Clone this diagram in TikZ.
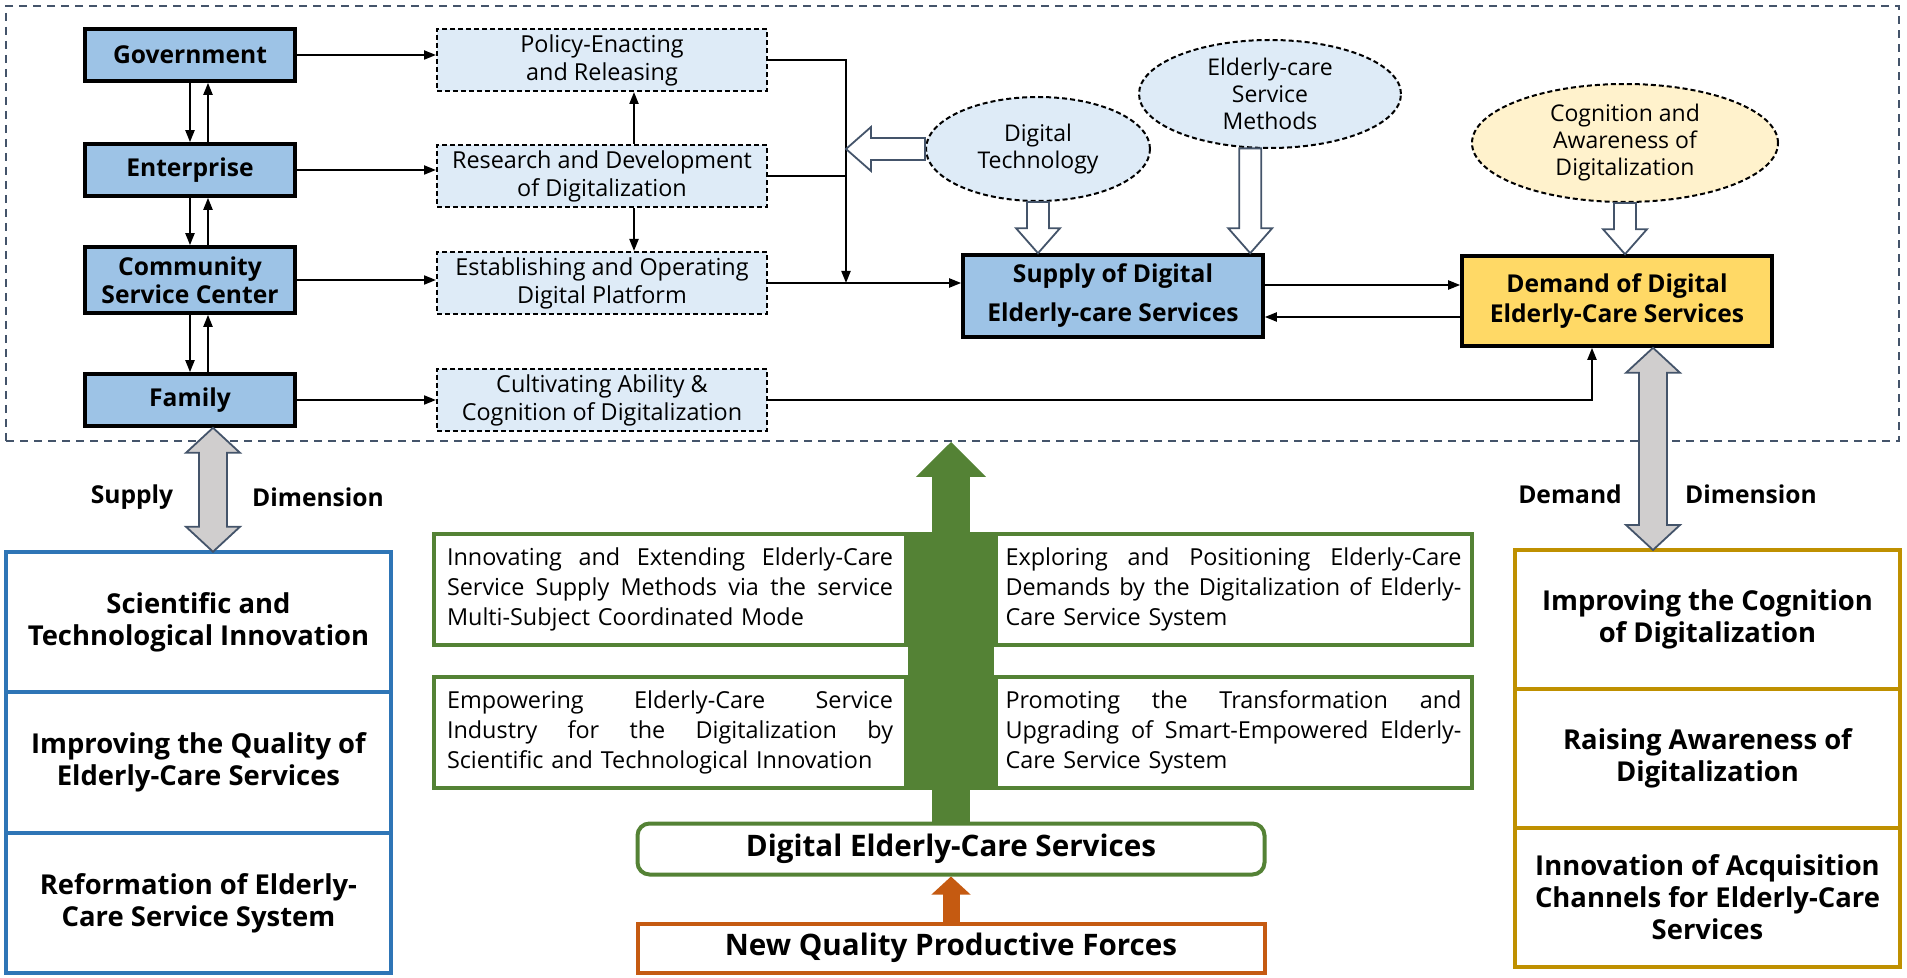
\documentclass[tikz,border=0pt]{standalone}
\usepackage{fontspec}
\setmainfont{Open Sans}
\usetikzlibrary{positioning,calc,arrows.meta,shapes.geometric}

\definecolor{actorblue}{HTML}{9DC3E6}
\definecolor{paleblue}{HTML}{DEEBF7}
\definecolor{paleyellow}{HTML}{FFF2CC}
\definecolor{demandgold}{HTML}{FFD966}
\definecolor{framegray}{HTML}{44546A}
\definecolor{arrowgray}{HTML}{D0CECE}
\definecolor{leafgreen}{HTML}{548235}
\definecolor{rustorange}{HTML}{C55A11}
\definecolor{panelblue}{HTML}{2E75B6}
\definecolor{panelgold}{HTML}{BF9000}

\tikzset{
  frame/.style={draw=framegray, dash pattern=on 4pt off 3pt, line width=0.9pt},
  actor/.style={draw, line width=1.8pt, fill=actorblue, minimum width=105pt, minimum height=26pt,
    align=center, inner sep=1pt, font=\fontsize{12.3}{14}\selectfont\bfseries},
  task/.style={draw, dash pattern=on 2.5pt off 1.5pt, line width=1pt, fill=paleblue, minimum width=165pt,
    minimum height=31pt, align=center, inner sep=1pt, font=\fontsize{11.7}{14}\selectfont},
  bubble/.style={ellipse, draw, dash pattern=on 2.5pt off 1.5pt, line width=1pt, fill=paleblue, align=center,
    inner sep=0pt, font=\fontsize{11.5}{13.5}\selectfont},
  core/.style={draw, line width=1.8pt, align=center, font=\fontsize{12.3}{16}\selectfont\bfseries},
  link/.style={-{Triangle[length=6pt,width=4.5pt]}, line width=1pt},
  hollow/.style={draw=framegray, line width=0.9pt, fill=white},
  dimarrow/.style={draw=framegray, line width=0.9pt, fill=arrowgray},
  dimlabel/.style={font=\fontsize{12.3}{14}\selectfont\bfseries},
  cell/.style={draw, line width=2pt, outer sep=0pt, minimum width=192.5pt, minimum height=70.25pt,
    align=center, fill=white, font=\fontsize{13.7}{16}\selectfont\bfseries},
  waybox/.style={draw=leafgreen, line width=2pt, fill=white, minimum height=55.5pt, align=left,
    font=\fontsize{11.7}{15}\selectfont},
  bigbox/.style={line width=2pt, fill=white, minimum width=313.5pt, minimum height=25.5pt,
    font=\fontsize{14.8}{17}\selectfont\bfseries},
}

% one justified line of a green box
\newcommand{\jline}[2][223pt]{\makebox[#1][s]{\spaceskip=0pt\xspaceskip=0pt #2}\\}

% hollow arrow pointing down
\newcommand{\hollowdown}[2]{%
  \draw[hollow] let \p1=#1, \p2=#2 in
    (\x1-5.5pt,\y1) -- (\x1-5.5pt,\y2+12.5pt) -- (\x1-11pt,\y2+12.5pt) -- (\x1,\y2)
    -- (\x1+11pt,\y2+12.5pt) -- (\x1+5.5pt,\y2+12.5pt) -- (\x1+5.5pt,\y1) -- cycle;}
% hollow arrow pointing left
\newcommand{\hollowleft}[2]{%
  \draw[hollow] let \p1=#1, \p2=#2 in
    (\x1,\y1-5.5pt) -- (\x2+12.5pt,\y1-5.5pt) -- (\x2+12.5pt,\y1-11pt) -- (\x2,\y1)
    -- (\x2+12.5pt,\y1+11pt) -- (\x2+12.5pt,\y1+5.5pt) -- (\x1,\y1+5.5pt) -- cycle;}
% grey double arrow, vertical
\newcommand{\dimlink}[2]{%
  \draw[dimarrow] let \p1=#1, \p2=#2 in
    (\x1,\y1) -- (\x1+13.5pt,\y1-12.5pt) -- (\x1+7pt,\y1-12.5pt) -- (\x1+7pt,\y2+12.5pt)
    -- (\x1+13.5pt,\y2+12.5pt) -- (\x1,\y2) -- (\x1-13.5pt,\y2+12.5pt) -- (\x1-7pt,\y2+12.5pt)
    -- (\x1-7pt,\y1-12.5pt) -- (\x1-13.5pt,\y1-12.5pt) -- cycle;}

\begin{document}
\begin{tikzpicture}[x=0.5pt,y=-0.5pt]
  \useasboundingbox (0,0) rectangle (1907,978);

  % top area
  \node[frame, minimum width=946.5pt, minimum height=217.5pt] (frame) at (952.5,223.5) {};

  % subjects
  \node[actor] (gov) at (190,55) {Government};
  \node[actor] (ent) at (190,170) {Enterprise};
  \node[actor, minimum height=33pt] (csc) at (190,280) {Community\\Service Center};
  \node[actor] (fam) at (190,400) {Family};

  \draw[link] (gov.south) -- (ent.north);
  \draw[link] ([xshift=9pt]ent.north) -- ([xshift=9pt]gov.south);
  \draw[link] (ent.south) -- (csc.north);
  \draw[link] ([xshift=9pt]csc.north) -- ([xshift=9pt]ent.south);
  \draw[link] (csc.south) -- (fam.north);
  \draw[link] ([xshift=9pt]fam.north) -- ([xshift=9pt]csc.south);

  % actions
  \node[task] (pol) at (602,60) {Policy-Enacting\\and Releasing};
  \node[task] (rnd) at (602,176) {Research and Development\\of Digitalization};
  \node[task] (est) at (602,283) {Establishing and Operating\\Digital Platform};
  \node[task] (cul) at (602,400) {Cultivating Ability \&\\Cognition of Digitalization};

  \draw[link] (gov.east) -- (gov.east -| pol.west);
  \draw[link] (ent.east) -- (ent.east -| rnd.west);
  \draw[link] (csc.east) -- (csc.east -| est.west);
  \draw[link] (fam.east) -- (fam.east -| cul.west);
  \draw[link] ([xshift=16pt]rnd.north) -- ([xshift=16pt]pol.south);
  \draw[link] ([xshift=16pt]rnd.south) -- ([xshift=16pt]est.north);

  % supply and demand
  \node[core, fill=actorblue, minimum width=150pt, minimum height=41pt,
    font=\fontsize{12.3}{19.5}\selectfont\bfseries] (sup) at (1113,296)
    {Supply of Digital\\Elderly-care Services};
  \node[core, fill=demandgold, minimum width=155pt, minimum height=45pt,
    font=\fontsize{12.3}{15}\selectfont\bfseries] (dem) at (1617,301)
    {Demand of Digital\\Elderly-Care Services};

  \coordinate (jn) at (846,283);
  \draw[link] (pol.east) -| (jn);
  \draw[line width=1pt] (rnd.east) -- (rnd.east -| jn);
  \draw[link] (est.east) -- (est.east -| sup.west);
  \coordinate (dhi) at ([yshift=8pt]dem.west);
  \coordinate (dlo) at ([yshift=-8pt]dem.west);
  \draw[link] (dhi -| sup.east) -- (dhi);
  \draw[link] (dlo) -- (dlo -| sup.east);
  \draw[link] (cul.east) -| ([xshift=-12.5pt]dem.south);

  % factors
  \node[bubble, minimum width=112pt, minimum height=52pt] (dt) at (1038,149) {Digital\\Technology};
  \node[bubble, minimum width=131pt, minimum height=54pt] (esm) at (1270,94) {Elderly-care\\Service\\Methods};
  \node[bubble, fill=paleyellow, minimum width=153pt, minimum height=59pt] (cog) at (1625,143)
    {Cognition and\\Awareness of\\Digitalization};

  \hollowleft{(dt.west)}{(dt.west -| jn)}
  \hollowdown{(dt.south)}{(dt.south |- sup.north)}
  \hollowdown{(esm.250)}{(esm.250 |- sup.north)}
  \hollowdown{(cog.south)}{(cog.south |- dem.north)}

  % supply dimension
  \node[cell, draw=panelblue] (sp1) at (198.5,622) {Scientific and\\Technological Innovation};
  \node[cell, draw=panelblue, below=0pt of sp1] (sp2) {Improving the Quality of\\Elderly-Care Services};
  \node[cell, draw=panelblue, below=0pt of sp2] (sp3) {Reformation of Elderly-\\Care Service System};
  \dimlink{([xshift=11.5pt]fam.south)}{([xshift=11.5pt]fam.south |- sp1.north)}
  \node[dimlabel] (slab) at (132,497) {Supply};
  \node[dimlabel] (sdim) at (318,497) {Dimension};

  % demand dimension
  \node[cell, draw=panelgold, minimum height=69.5pt] (dd1) at (1707.5,619.5) {Improving the Cognition\\of Digitalization};
  \node[cell, draw=panelgold, minimum height=69.5pt, below=0pt of dd1] (dd2) {Raising Awareness of\\Digitalization};
  \node[cell, draw=panelgold, minimum height=69.5pt, below=0pt of dd2] (dd3)
    {Innovation of Acquisition\\Channels for Elderly-Care\\Services};
  \dimlink{([xshift=18pt]dem.south)}{([xshift=18pt]dem.south |- dd1.north)}
  \node[dimlabel] (dlab) at (1570,494) {Demand};
  \node[dimlabel] (ddim) at (1751,494) {Dimension};

  % digital elderly-care services
  \node[bigbox, draw=leafgreen, rounded corners=6pt] (des) at (951,849) {Digital Elderly-Care Services};
  \node[bigbox, draw=rustorange, minimum height=24.5pt] (nqp) at (951,948) {New Quality Productive Forces};
  \draw[line width=8.5pt, rustorange, -{Triangle[length=9pt,width=19pt]}] (nqp.north) -- (des.south);
  \draw[line width=19pt, leafgreen, -{Triangle[length=17.5pt,width=34pt]}] (des.north) -- (des.north |- frame.south);

  \node[waybox, text width=223pt, inner xsep=6.5pt] (w1l) at (670,589.5)
    {\jline{Innovating and Extending Elderly-Care}\jline{Service Supply Methods via the service}Multi-Subject Coordinated Mode};
  \node[waybox, text width=228pt, inner xsep=5pt] (w1r) at (1233.5,589.5)
    {\jline[228pt]{Exploring and Positioning Elderly-Care}\jline[228pt]{Demands by the Digitalization of Elderly-}Care Service System};
  \node[waybox, text width=223pt, inner xsep=6.5pt] (w2l) at (670,732)
    {\jline{Empowering Elderly-Care Service}\jline{Industry for the Digitalization by}Scientific and Technological Innovation};
  \node[waybox, text width=228pt, inner xsep=5pt] (w2r) at (1233.5,732)
    {\jline[228pt]{Promoting the Transformation and}\jline[228pt]{Upgrading of Smart-Empowered Elderly-}Care Service System};
  \fill[leafgreen] (w1l.north east) rectangle (w2r.south west);
\end{tikzpicture}
\end{document}
